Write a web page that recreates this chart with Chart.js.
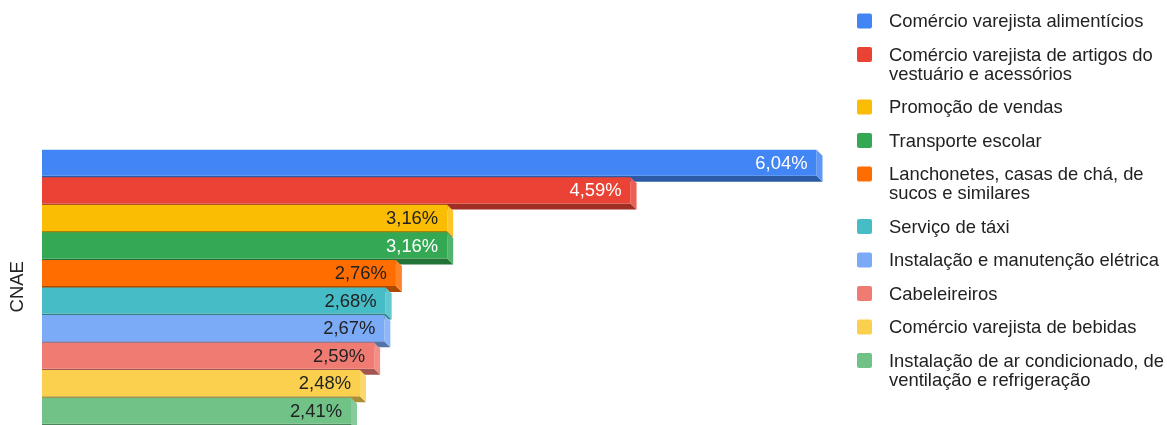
<!DOCTYPE html>
<html lang="pt-BR">
<head>
<meta charset="utf-8">
<title>CNAE</title>
<script src="https://cdn.jsdelivr.net/npm/chart.js@4.4.1/dist/chart.umd.min.js"></script>
<style>
  html, body { margin: 0; padding: 0; background: #ffffff; }
  #wrap { position: relative; width: 1167px; height: 425px; }
</style>
</head>
<body>
<div id="wrap"><canvas id="cnaeChart"></canvas></div>
<script>
// Atividades (CNAE) e participação percentual
var categories = [
    'Comércio varejista alimentícios',
    'Comércio varejista de artigos do vestuário e acessórios',
    'Promoção de vendas',
    'Transporte escolar',
    'Lanchonetes, casas de chá, de sucos e similares',
    'Serviço de táxi',
    'Instalação e manutenção elétrica',
    'Cabeleireiros',
    'Comércio varejista de bebidas',
    'Instalação de ar condicionado, de ventilação e refrigeração'
];
var shares = [6.04, 4.59, 3.16, 3.16, 2.76, 2.68, 2.67, 2.59, 2.48, 2.41];

var barColors = ['#4285F4', '#EA4335', '#FBBC04', '#34A853', '#FF6D01',
                 '#46BDC6', '#7BAAF7', '#F07B72', '#FCD04F', '#71C287'];
var labelColors = ['#ffffff', '#ffffff', '#222222', '#ffffff', '#222222',
                   '#222222', '#222222', '#222222', '#222222', '#222222'];

var FONT = '"Liberation Sans", Arial, sans-serif';
var DEPTH = 6;

function shade(hex, f) {
    var n = parseInt(hex.slice(1), 16);
    var r = (n >> 16) & 255, g = (n >> 8) & 255, b = n & 255;
    if (f < 1) {
        r = Math.round(r * f); g = Math.round(g * f); b = Math.round(b * f);
    } else {
        var t = f - 1;
        r = Math.round(r + (255 - r) * t); g = Math.round(g + (255 - g) * t); b = Math.round(b + (255 - b) * t);
    }
    return 'rgb(' + r + ',' + g + ',' + b + ')';
}

function fmt(v) {
    return v.toFixed(2).replace('.', ',') + '%';
}

// bottom and side faces drawn before the front faces
var depthPlugin = {
    id: 'depth3d',
    beforeDatasetsDraw: function (chart) {
        var ctx = chart.ctx;
        var meta = chart.getDatasetMeta(0);
        ctx.save();
        meta.data.forEach(function (bar, i) {
            var p = bar.getProps(['x', 'y', 'base', 'height'], true);
            var top = p.y - p.height / 2, bottom = p.y + p.height / 2;
            var col = barColors[i];
            ctx.fillStyle = shade(col, 0.68);
            ctx.beginPath();
            ctx.moveTo(p.base, bottom);
            ctx.lineTo(p.x, bottom);
            ctx.lineTo(p.x + DEPTH, bottom + DEPTH);
            ctx.lineTo(p.base, bottom + DEPTH);
            ctx.closePath();
            ctx.fill();
            ctx.fillStyle = shade(col, 1.15);
            ctx.beginPath();
            ctx.moveTo(p.x, top);
            ctx.lineTo(p.x + DEPTH, top + DEPTH);
            ctx.lineTo(p.x + DEPTH, bottom + DEPTH);
            ctx.lineTo(p.x, bottom);
            ctx.closePath();
            ctx.fill();
        });
        ctx.restore();
    },
    afterDatasetsDraw: function (chart) {
        var ctx = chart.ctx;
        var meta = chart.getDatasetMeta(0);
        ctx.save();
        ctx.font = '18.4px ' + FONT;
        ctx.textAlign = 'right';
        ctx.textBaseline = 'middle';
        meta.data.forEach(function (bar, i) {
            ctx.fillStyle = labelColors[i];
            ctx.fillText(fmt(shares[i]), bar.x - 9, bar.y + 1);
        });
        ctx.restore();
    }
};

// legend column on the right, with wrapped labels
var sideLegend = {
    id: 'sideLegend',
    afterDraw: function (chart) {
        var ctx = chart.ctx;
        var boxX = 857, textX = 889, maxW = chart.width - textX - 1;
        var y = 21, lineH = 19, step = 33.5;
        ctx.save();
        ctx.font = '18.4px ' + FONT;
        ctx.textBaseline = 'middle';
        ctx.textAlign = 'left';
        categories.forEach(function (name, i) {
            var words = name.split(' '), lines = [], cur = '';
            words.forEach(function (w) {
                var test = cur ? cur + ' ' + w : w;
                if (cur && ctx.measureText(test).width > maxW) {
                    lines.push(cur);
                    cur = w;
                } else {
                    cur = test;
                }
            });
            lines.push(cur);

            ctx.fillStyle = barColors[i];
            ctx.beginPath();
            ctx.roundRect(boxX, y - 7.5, 15, 15, 2);
            ctx.fill();

            ctx.fillStyle = '#222222';
            lines.forEach(function (ln, k) {
                ctx.fillText(ln, textX, y + 1 + k * lineH);
            });
            y += step + (lines.length - 1) * lineH;
        });
        ctx.restore();
    }
};

var cnaeCanvas = document.getElementById('cnaeChart').getContext('2d');

var cnaeChart = new Chart(cnaeCanvas, {
    type: 'bar',
    data: {
        labels: categories,
        datasets: [{
            label: 'CNAE',
            data: shares,
            backgroundColor: barColors,
            borderWidth: 0,
            categoryPercentage: 1,
            barPercentage: 0.95
        }]
    },
    options: {
        indexAxis: 'y',
        responsive: true,
        maintainAspectRatio: false,
        animation: false,
        layout: {
            padding: { top: 149, bottom: 0.5, left: 0, right: 330 }
        },
        plugins: {
            legend: { display: false },
            tooltip: { enabled: false }
        },
        scales: {
            x: {
                display: false,
                min: 0,
                max: 6.2
            },
            y: {
                display: true,
                grid: { display: false, drawTicks: false },
                border: { display: false },
                ticks: { display: false },
                title: {
                    display: true,
                    text: 'CNAE',
                    color: '#222222',
                    font: { family: FONT, size: 18.5 },
                    padding: { top: 7, bottom: 12.8 }
                }
            }
        }
    },
    plugins: [depthPlugin, sideLegend]
});
</script>
</body>
</html>
